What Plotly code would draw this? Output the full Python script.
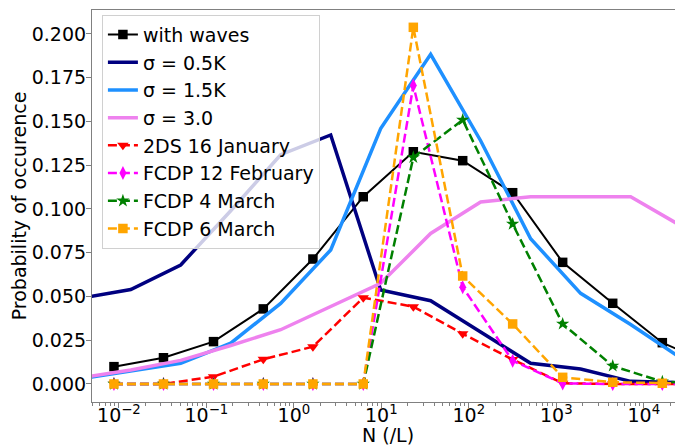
import plotly.graph_objects as go

# Bin centres (N, per litre) for observations / "with waves"
obs_N = [0.00877, 0.0323, 0.1205, 0.447, 1.65, 6.21, 23.2, 85.1, 317, 1183, 4416, 16300, 60700]
# Bin centres for the sigma curves
sig_N = [0.00366, 0.01365, 0.0508, 0.1897, 0.706, 2.636, 9.82, 36.6, 136.5, 509, 1897, 7079, 26360]

with_waves = [0.0099, 0.0150, 0.0242, 0.0429, 0.0714, 0.107, 0.1327, 0.1276, 0.1093, 0.0695, 0.0461, 0.0236, 0.011]
sigma_05 = [0.049, 0.054, 0.068, 0.099, 0.131, 0.1423, 0.0537, 0.0476, 0.0297, 0.0118, 0.0085, 0.0015, 0.0008]
sigma_15 = [0.003, 0.0072, 0.0118, 0.0233, 0.046, 0.0766, 0.146, 0.1884, 0.139, 0.083, 0.0518, 0.034, 0.0149]
sigma_30 = [0.0035, 0.008, 0.0135, 0.022, 0.031, 0.0445, 0.0575, 0.086, 0.104, 0.107, 0.107, 0.107, 0.0905]
ds_16jan = [0, 0, 0.0042, 0.0141, 0.0213, 0.0493, 0.0442, 0.0287, 0.014, 0.0004, 0, 0, 0]
fcdp_12feb = [0, 0, 0, 0, 0, 0, 0.1705, 0.0553, 0.0133, 0.0003, 0, 0, 0]
fcdp_4mar = [0, 0, 0, 0, 0, 0, 0.1295, 0.1509, 0.0914, 0.0343, 0.0103, 0.0013, 0]
fcdp_6mar = [0, 0, 0, 0, 0, 0, 0.2038, 0.0617, 0.0343, 0.0038, 0.001, 0.0004, 0]

y_ticks = [0.0, 0.025, 0.05, 0.075, 0.1, 0.125, 0.15, 0.175, 0.2]
x_tickvals = [0.01, 0.1, 1, 10, 100, 1000, 10000]
x_ticktext = ["10<sup>−2</sup>", "10<sup>−1</sup>", "10<sup>0</sup>", "10<sup>1</sup>",
              "10<sup>2</sup>", "10<sup>3</sup>", "10<sup>4</sup>"]

FONT = "DejaVu Sans"
fig = go.Figure()

fig.add_trace(go.Scatter(x=obs_N, y=with_waves, name="with waves", mode="lines+markers",
                         line=dict(color="black", width=2),
                         marker=dict(symbol="square", size=9.5, color="black")))
fig.add_trace(go.Scatter(x=sig_N, y=sigma_05, name="σ = 0.5K", mode="lines",
                         line=dict(color="#000080", width=3.5)))
fig.add_trace(go.Scatter(x=sig_N, y=sigma_15, name="σ = 1.5K", mode="lines",
                         line=dict(color="#1E90FF", width=3.5)))
fig.add_trace(go.Scatter(x=sig_N, y=sigma_30, name="σ = 3.0", mode="lines",
                         line=dict(color="#EE82EE", width=3.5)))

dash = "9px,4px"
fig.add_trace(go.Scatter(x=obs_N, y=ds_16jan, name="2DS 16 January", mode="lines+markers",
                         line=dict(color="red", width=2.5, dash=dash),
                         marker=dict(symbol="triangle-down", size=10, color="red")))
fig.add_trace(go.Scatter(x=obs_N, y=fcdp_12feb, name="FCDP 12 February", mode="lines+markers",
                         line=dict(color="magenta", width=2.5, dash=dash),
                         marker=dict(symbol="diamond-tall", size=10, color="magenta")))
fig.add_trace(go.Scatter(x=obs_N, y=fcdp_4mar, name="FCDP 4 March", mode="lines+markers",
                         line=dict(color="green", width=2.5, dash=dash),
                         marker=dict(symbol="star", size=10, color="green")))
fig.add_trace(go.Scatter(x=obs_N, y=fcdp_6mar, name="FCDP 6 March", mode="lines+markers",
                         line=dict(color="orange", width=2.5, dash=dash),
                         marker=dict(symbol="square", size=9.5, color="orange")))

fig.update_layout(
    width=675, height=445,
    margin=dict(l=92, r=0, t=10, b=43, autoexpand=False),
    paper_bgcolor="white", plot_bgcolor="white",
    font=dict(family=FONT, size=19, color="black"),
    showlegend=True,
    legend=dict(x=0.017, y=0.988, xanchor="left", yanchor="top",
                bgcolor="rgba(255,255,255,0.8)", bordercolor="#d0d0d0", borderwidth=1,
                font=dict(family=FONT, size=19, color="black")),
    annotations=[dict(text="N (/L)", x=0.507, y=0.0, xref="paper", yref="paper",
                      yshift=-20, xanchor="center", yanchor="top", showarrow=False,
                      font=dict(family=FONT, size=19, color="black"))],
)

fig.update_xaxes(type="log", range=[-2.308, 4.357], showgrid=False, zeroline=False,
                 automargin=False,
                 showline=True, linecolor="#808080", linewidth=1.2, mirror=True,
                 ticks="outside", ticklen=5, tickcolor="#808080",
                 tickvals=x_tickvals, ticktext=x_ticktext, ticklabelstandoff=-9,
                 tickfont=dict(family=FONT, size=19),
                 minor=dict(ticks="outside", ticklen=3, tickcolor="#808080", dtick="D1"))
fig.update_yaxes(range=[-0.0103, 0.2137], showgrid=False, zeroline=False,
                 automargin=False,
                 showline=True, linecolor="#808080", linewidth=1.2,
                 ticks="outside", ticklen=5, tickcolor="#808080", ticklabelstandoff=-4,
                 tickvals=y_ticks, tickformat=".3f", tickfont=dict(family=FONT, size=19),
                 title=dict(text="Probability of occurence", standoff=0,
                            font=dict(family=FONT, size=19)))

fig.write_html("out.html", config={"displayModeBar": False},
               post_script="document.body.style.margin='0';document.body.style.overflow='hidden';")
